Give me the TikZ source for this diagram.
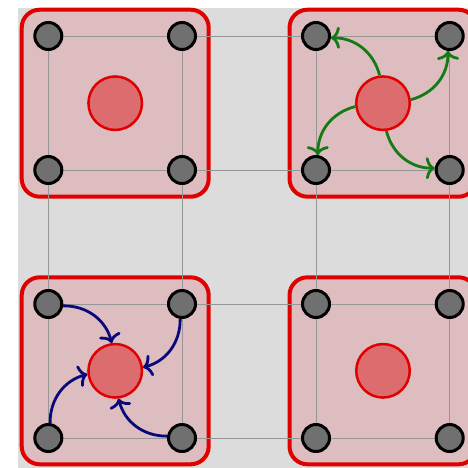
\documentclass[tikz,border=0pt]{standalone}
\usetikzlibrary{arrows.meta}
\definecolor{bgc}{RGB}{220,220,220}
\definecolor{boxfill}{RGB}{222,189,193}
\definecolor{boxline}{RGB}{224,0,0}
\definecolor{ctrfill}{RGB}{221,108,110}
\definecolor{ptfill}{RGB}{112,112,112}
\definecolor{grn}{RGB}{20,122,20}
\definecolor{nvy}{RGB}{8,8,122}
\definecolor{gridc}{RGB}{150,150,150}
\begin{document}
\begin{tikzpicture}[x=1pt,y=1pt,
  boxnode/.style={draw=boxline,fill=boxfill,line width=4pt,rounded corners=18pt,
    minimum size=187pt,inner sep=0pt,outer sep=0pt},
  gridline/.style={draw=gridc,line width=1pt},
  ptnode/.style={circle,draw=black,fill=ptfill,line width=3pt,minimum size=27pt,inner sep=0pt},
  ctrnode/.style={circle,draw=boxline,fill=ctrfill,line width=2.5pt,minimum size=53.5pt,inner sep=0pt},
  tipstyle/.style={-{To[length=9pt,width=22pt]}},
  garrow/.style={draw=grn,line width=2.8pt,tipstyle},
  barrow/.style={draw=nvy,line width=2.8pt,tipstyle}]
\clip (0,0) rectangle (468,-467);
\useasboundingbox (0,0) rectangle (468,-467);
\fill[bgc] (18,-8) rectangle (470,-470);
% red boxes
\node[boxnode] (bTL) at (115.2,-103.2) {};
\node[boxnode] (bTR) at (383,-103.2) {};
\node[boxnode] (bBL) at (115.2,-370.8) {};
\node[boxnode] (bBR) at (383,-370.8) {};
% grid coordinates
\foreach \i/\x in {1/48.3,2/182,3/316,4/449.7}
  \foreach \j/\y in {1/36,2/170,3/304,4/438}
    \coordinate (p\i\j) at (\x,-\y);
\foreach \j in {1,...,4} \draw[gridline] (p1\j) -- (p4\j);
\foreach \i in {1,...,4} \draw[gridline] (p\i1) -- (p\i4);
% corner nodes
\foreach \i in {1,...,4}
  \foreach \j in {1,...,4}
    \node[ptnode] (n\i\j) at (p\i\j) {};
% centre circles
\node[ctrnode] (cTL) at (115.2,-103.2) {};
\node[ctrnode] (cTR) at (383,-103.2) {};
\node[ctrnode] (cBL) at (115.2,-370.8) {};
\node[ctrnode] (cBR) at (383,-370.8) {};
% green arrows (outwards)
\draw[garrow] (cTR) to[bend right=38] (n31);
\draw[garrow] (cTR) to[bend right=38] (n41);
\draw[garrow] (cTR) to[bend right=38] (n32);
\draw[garrow] (cTR) to[bend right=38] (n42);
% blue arrows (inwards)
\draw[barrow] (n13) to[bend left=38] (cBL);
\draw[barrow] (n23) to[bend left=38] (cBL);
\draw[barrow] (n14) to[bend left=38] (cBL);
\draw[barrow] (n24) to[bend left=38] (cBL);
\end{tikzpicture}
\end{document}
